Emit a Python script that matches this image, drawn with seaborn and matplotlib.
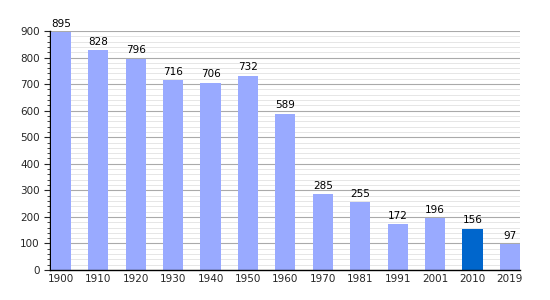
import matplotlib
matplotlib.use("Agg")
import matplotlib.pyplot as plt
import seaborn as sns
import pandas as pd
from matplotlib.ticker import MultipleLocator

years = ["1900", "1910", "1920", "1930", "1940", "1950", "1960", "1970", "1981", "1991", "2001", "2010", "2019"]
population = [895, 828, 796, 716, 706, 732, 589, 285, 255, 172, 196, 156, 97]
highlight_year = "2010"

df = pd.DataFrame({"year": years, "pop": population})
palette = {y: ("#0066cc" if y == highlight_year else "#99aaff") for y in years}

sns.set_style("white")
plt.rcParams["font.family"] = ["DejaVu Sans"]

fig = plt.figure(figsize=(5.5, 3), dpi=100)
ax = fig.add_axes([50/550, 30/300, 470/550, 239/300])

bar_w = 0.54
sns.barplot(data=df, x="year", y="pop", hue="year", palette=palette, legend=False,
            width=bar_w, ax=ax, saturation=1, zorder=3, linewidth=0, edgecolor="none")

ax.set_ylim(0, 900)
ax.set_xlim(-bar_w / 2 - 0.02, len(years) - 1 + bar_w / 2)
ax.yaxis.set_major_locator(MultipleLocator(100))
ax.yaxis.set_minor_locator(MultipleLocator(20))
ax.grid(which="major", axis="y", color="#aaaaaa", linewidth=0.8, zorder=0)
ax.grid(which="minor", axis="y", color="#e2e2e2", linewidth=0.6, zorder=0)
ax.set_axisbelow(True)

for s in ["top", "right"]:
    ax.spines[s].set_visible(False)
ax.spines["left"].set_color("black")
ax.spines["bottom"].set_color("black")
ax.spines["left"].set_linewidth(1)
ax.spines["bottom"].set_linewidth(1)
ax.spines["bottom"].set_zorder(5)

ax.tick_params(axis="y", which="major", length=4, width=0.8, direction="out", labelsize=7.5, left=True)
ax.tick_params(axis="y", which="minor", length=2, width=0.6, direction="out", left=True)
ax.tick_params(axis="x", length=0, labelsize=7.5, pad=3)
ax.set_xlabel("")
ax.set_ylabel("")

for i, v in enumerate(population):
    ax.text(i, v + 12, str(v), ha="center", va="bottom", fontsize=7.5, color="black")

fig.savefig("out.png", dpi=100)
